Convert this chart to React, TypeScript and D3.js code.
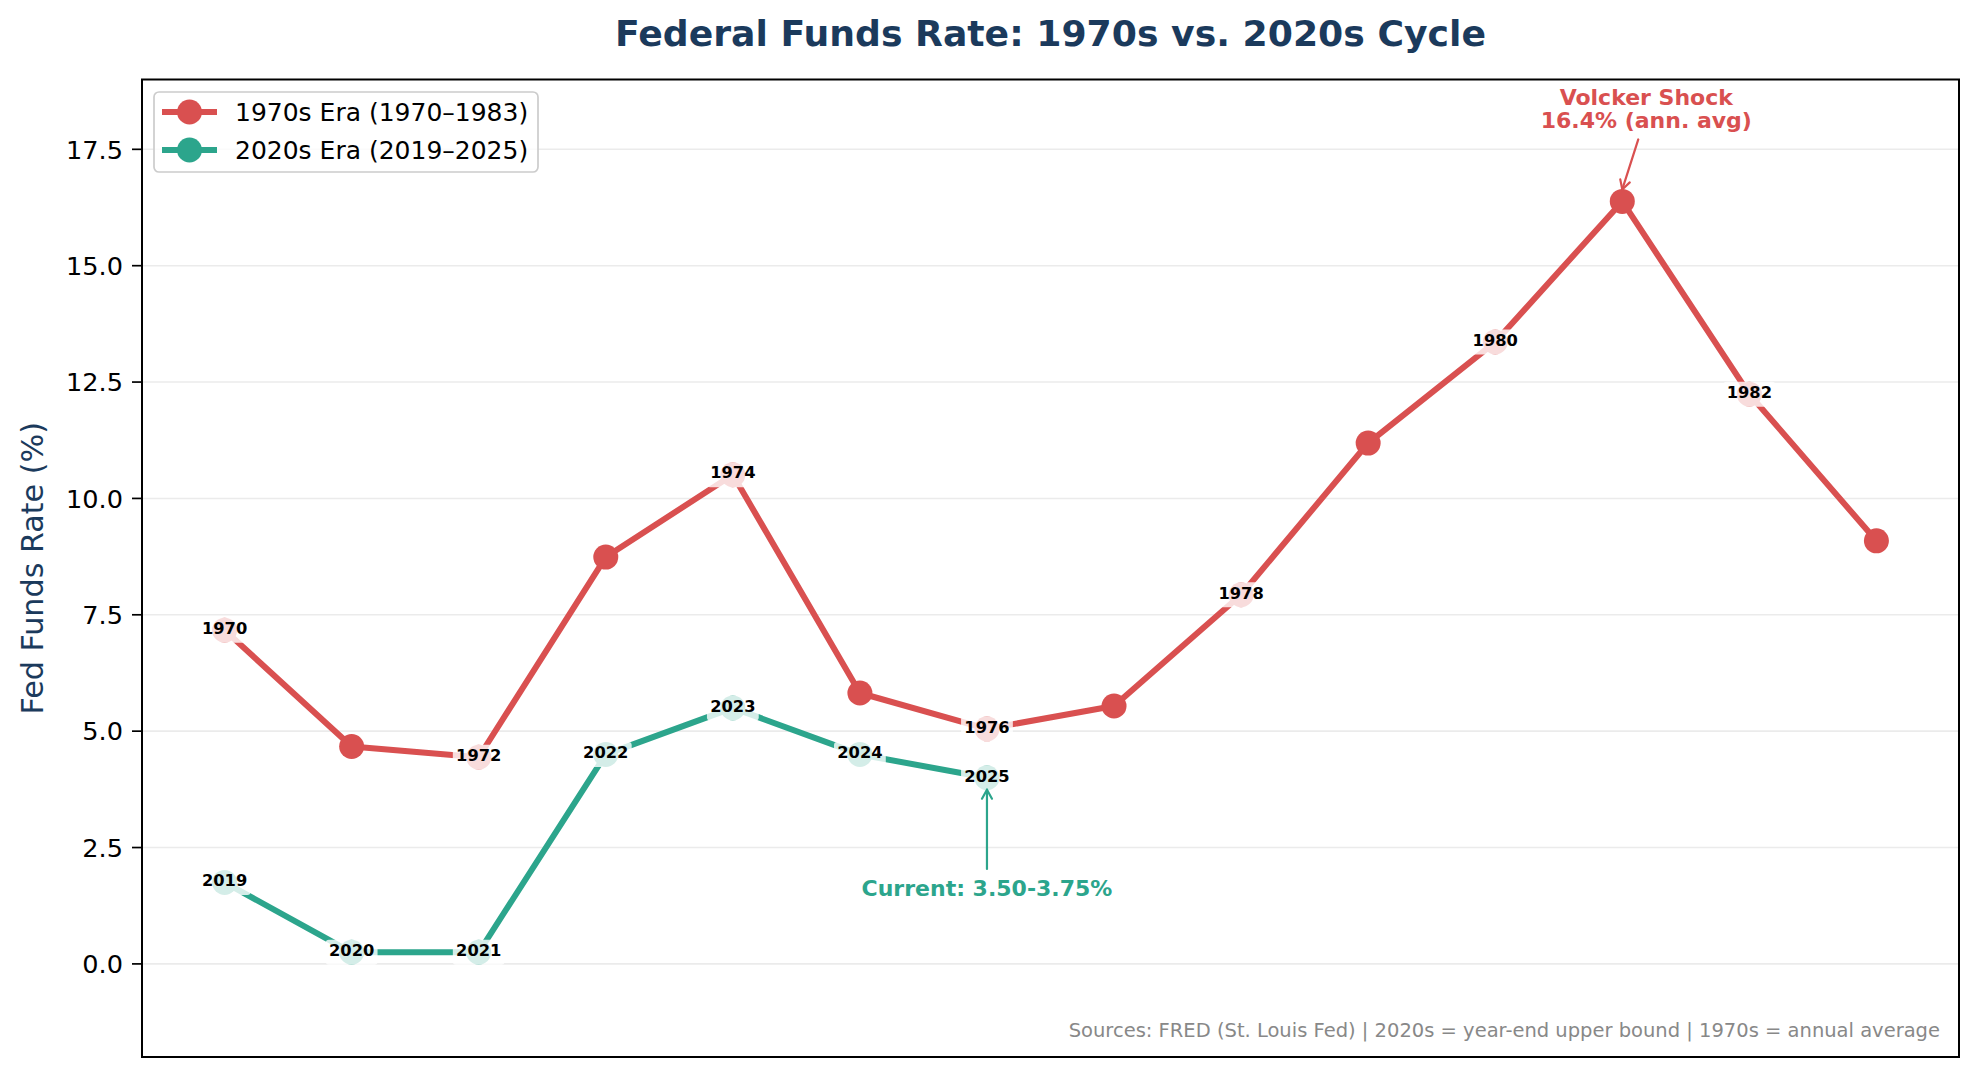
import * as d3 from "d3";

// 1970s cycle, annual averages
const years70 = [1970, 1971, 1972, 1973, 1974, 1975, 1976, 1977, 1978, 1979, 1980, 1981, 1982, 1983];
const rates70 = [7.17, 4.67, 4.44, 8.74, 10.51, 5.82, 5.05, 5.54, 7.93, 11.19, 13.36, 16.38, 12.24, 9.09];

// 2020s cycle, year-end upper bound
const years20 = [2019, 2020, 2021, 2022, 2023, 2024, 2025];
const rates20 = [1.75, 0.25, 0.25, 4.5, 5.5, 4.5, 4.0];

const yTicks = [0, 2.5, 5, 7.5, 10, 12.5, 15, 17.5];
const legendLabels = ["1970s Era (1970\u20131983)", "2020s Era (2019\u20132025)"];

const W = 1979;
const H = 1078;
const margin = { top: 79.5, right: 20, bottom: 21, left: 142 };
const RED = "#d95050";
const GREEN = "#2ca58c";
const NAVY = "#1b3a5c";
const FONT = "'DejaVu Sans', Verdana, sans-serif";
const LW = 6;
const MR = 12.5;

const x = d3.scaleLinear().domain([-0.65, 13.65]).range([margin.left, W - margin.right]);
const y = d3.scaleLinear().domain([-2, 19]).range([H - margin.bottom, margin.top]);

const line = d3
  .line<number>()
  .x((_, i) => x(i))
  .y((d) => y(d));

function YearLabel({ cx, cy, text }: { cx: number; cy: number; text: string }) {
  const fs = 16.3;
  const w = text.length * 0.696 * fs + 6.4;
  const h = 25;
  return (
    <g>
      <rect x={cx - w / 2} y={cy - h / 2} width={w} height={h} rx={3.2} fill="#fff" fillOpacity={0.8} />
      <text x={cx} y={cy + 3.8} textAnchor="middle" fontSize={fs} fontWeight="bold" fill="#000">
        {text}
      </text>
    </g>
  );
}

function Arrow({ x1, y1, x2, y2, color }: { x1: number; y1: number; x2: number; y2: number; color: string }) {
  const ang = Math.atan2(y2 - y1, x2 - x1);
  const hl = 9;
  const hw = 5;
  const bx = x2 - hl * Math.cos(ang);
  const by = y2 - hl * Math.sin(ang);
  const px = -Math.sin(ang) * hw;
  const py = Math.cos(ang) * hw;
  return (
    <g stroke={color} strokeWidth={2.2} fill="none" strokeLinecap="round" strokeLinejoin="round">
      <line x1={x1} y1={y1} x2={x2} y2={y2} />
      <path d={`M${bx + px},${by + py}L${x2},${y2}L${bx - px},${by - py}`} />
    </g>
  );
}

export default function App() {
  const left = margin.left;
  const right = W - margin.right;
  const top = margin.top;
  const bottom = H - margin.bottom;
  const peakIdx = rates70.indexOf(d3.max(rates70)!);
  const lastIdx = rates20.length - 1;

  return (
    <svg
      width={W}
      height={H}
      style={{ position: "absolute", left: 0, top: 0, background: "#fff" }}
      fontFamily={FONT}
    >
      <rect width={W} height={H} fill="#fff" />

      {/* Title */}
      <text x={(left + right) / 2} y={46} textAnchor="middle" fontSize={36.2} fontWeight="bold" fill={NAVY}>
        Federal Funds Rate: 1970s vs. 2020s Cycle
      </text>

      {/* Grid */}
      {yTicks.map((t) => (
        <line key={t} x1={left} x2={right} y1={y(t)} y2={y(t)} stroke="#ebebeb" strokeWidth={1.6} />
      ))}

      {/* Y axis ticks */}
      {yTicks.map((t) => (
        <g key={"t" + t}>
          <line x1={left - 10} x2={left} y1={y(t)} y2={y(t)} stroke="#000" strokeWidth={1.7} />
          <text x={left - 19} y={y(t) + 9.2} textAnchor="end" fontSize={25.6} fill="#000">
            {t.toFixed(1)}
          </text>
        </g>
      ))}

      {/* Y label */}
      <text
        transform={`translate(43,${(top + bottom) / 2}) rotate(-90)`}
        textAnchor="middle"
        fontSize={30.2}
        fill={NAVY}
      >
        Fed Funds Rate (%)
      </text>

      {/* Lines */}
      <path d={line(rates70)!} fill="none" stroke={RED} strokeWidth={LW} strokeLinejoin="round" />
      {rates70.map((r, i) => (
        <circle key={"m70" + i} cx={x(i)} cy={y(r)} r={MR} fill={RED} />
      ))}
      <path d={line(rates20)!} fill="none" stroke={GREEN} strokeWidth={LW} strokeLinejoin="round" />
      {rates20.map((r, i) => (
        <circle key={"m20" + i} cx={x(i)} cy={y(r)} r={MR} fill={GREEN} />
      ))}

      {/* Year labels */}
      {rates70.map((r, i) =>
        i % 2 === 0 ? <YearLabel key={"l70" + i} cx={x(i)} cy={y(r)} text={String(years70[i])} /> : null
      )}
      {rates20.map((r, i) => (
        <YearLabel key={"l20" + i} cx={x(i)} cy={y(r)} text={String(years20[i])} />
      ))}

      {/* Volcker annotation */}
      <Arrow
        x1={x(peakIdx) + 16}
        y1={y(rates70[peakIdx]) - 62}
        x2={x(peakIdx)}
        y2={y(rates70[peakIdx]) - 12}
        color={RED}
      />
      <text x={x(peakIdx) + 24} y={105} textAnchor="middle" fontSize={22} fontWeight="bold" fill={RED}>
        Volcker Shock
      </text>
      <text x={x(peakIdx) + 24} y={128} textAnchor="middle" fontSize={22} fontWeight="bold" fill={RED}>
        {`${rates70[peakIdx].toFixed(1)}% (ann. avg)`}
      </text>

      {/* Current annotation */}
      <Arrow x1={x(lastIdx)} y1={869} x2={x(lastIdx)} y2={y(rates20[lastIdx]) + 12} color={GREEN} />
      <text x={x(lastIdx)} y={896} textAnchor="middle" fontSize={22} fontWeight="bold" fill={GREEN}>
        Current: 3.50-3.75%
      </text>

      {/* Source note */}
      <text x={right - 19} y={1037} textAnchor="end" fontSize={19.5} fill="#888">
        Sources: FRED (St. Louis Fed) | 2020s = year-end upper bound | 1970s = annual average
      </text>

      {/* Legend */}
      <g>
        <rect x={154} y={92} width={384} height={80} rx={5} fill="#fff" fillOpacity={0.8} stroke="#cccccc" strokeWidth={1.7} />
        {legendLabels.map((lab, i) => {
          const ly = 112 + i * 38;
          const c = i === 0 ? RED : GREEN;
          return (
            <g key={lab}>
              <line x1={162} x2={217} y1={ly} y2={ly} stroke={c} strokeWidth={LW} />
              <circle cx={189.5} cy={ly} r={MR} fill={c} />
              <text x={235} y={ly + 9} fontSize={25} fill="#000">
                {lab}
              </text>
            </g>
          );
        })}
      </g>

      {/* Frame */}
      <rect x={left} y={top} width={right - left} height={bottom - top} fill="none" stroke="#000" strokeWidth={2} />
    </svg>
  );
}
